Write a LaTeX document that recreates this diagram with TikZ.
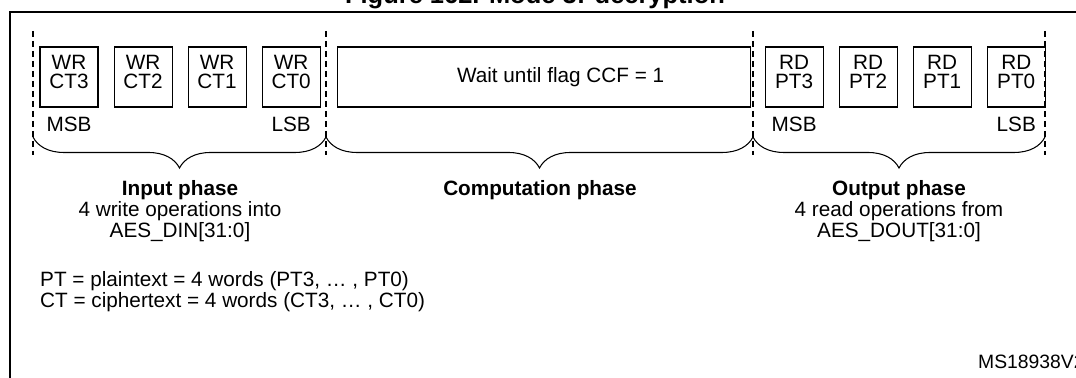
\documentclass[tikz,border=0pt]{standalone}
\usepackage{fontspec}
\setmainfont{Liberation Sans}
\usetikzlibrary{positioning, decorations.pathreplacing}

\begin{document}
\begin{tikzpicture}[
    x=0.02cm, y=-0.02cm,
    node distance=0.3cm,
    every node/.style={font=\fontsize{11.8}{10.6}\selectfont, align=center},
    opbox/.style={draw, line width=0.6pt, minimum width=1.16cm,
                  minimum height=1.2cm, inner sep=0pt, text depth=0.2cm},
    bitlbl/.style={inner sep=1pt},
    phasebrace/.style={decorate, decoration={brace, mirror, amplitude=0.62cm},
                       line width=0.6pt},
    sepline/.style={dash pattern=on 0.13cm off 0.07cm, line width=0.6pt}
]
\useasboundingbox (0,0) rectangle (1076,378);
% frame and title
\draw[line width=1.1pt] (10,380) -- (10,12) -- (1080,12);
\node[font=\fontsize{14.5}{16}\selectfont\bfseries, anchor=base] (title) at (535,4) {Figure 162. Mode 3: decryption};

% input phase
\node[opbox] (wr3) at (69,77) {WR\\CT3};
\node[opbox, right=of wr3] (wr2) {WR\\CT2};
\node[opbox, right=of wr2] (wr1) {WR\\CT1};
\node[opbox, right=of wr1] (wr0) {WR\\CT0};
\node[bitlbl, below=0.14cm of wr3] (msbin) {MSB};
\node[bitlbl, below=0.14cm of wr0] (lsbin) {LSB};

% computation phase
\node[opbox, minimum width=8.26cm, right=0.32cm of wr0] (wait) {};
\node[xshift=0.34cm] (waittxt) at (wait) {Wait until flag CCF = 1};

% output phase
\node[opbox, right=0.28cm of wait] (rd3) {RD\\PT3};
\node[opbox, right=of rd3] (rd2) {RD\\PT2};
\node[opbox, right=of rd2] (rd1) {RD\\PT1};
\node[opbox, right=of rd1] (rd0) {RD\\PT0};
\node[bitlbl, below=0.14cm of rd3] (msbout) {MSB};
\node[bitlbl, below=0.14cm of rd0] (lsbout) {LSB};

% phase separators and braces
\foreach \x in {33,326,753,1045}
    \draw[sepline] (\x,31) -- (\x,155);
\draw[phasebrace] (33,137) -- (326,137);
\draw[phasebrace] (326,137) -- (753,137);
\draw[phasebrace] (753,137) -- (1045,137);

\node[anchor=north] (inphase) at (180,174) {\textbf{Input phase}\\4 write operations into\\AES\_DIN[31:0]};
\node[anchor=north] (compphase) at (540,174) {\textbf{Computation phase}};
\node[anchor=north] (outphase) at (899,174) {\textbf{Output phase}\\4 read operations from\\AES\_DOUT[31:0]};

% notes
\node[anchor=west, align=left] (notes) at (34,292) {PT = plaintext = 4 words (PT3, … , PT0)\\CT = ciphertext = 4 words (CT3, … , CT0)};
\node[anchor=west, font=\fontsize{11}{12}\selectfont] (docid) at (972,362) {MS18938V2};
\end{tikzpicture}
\end{document}
